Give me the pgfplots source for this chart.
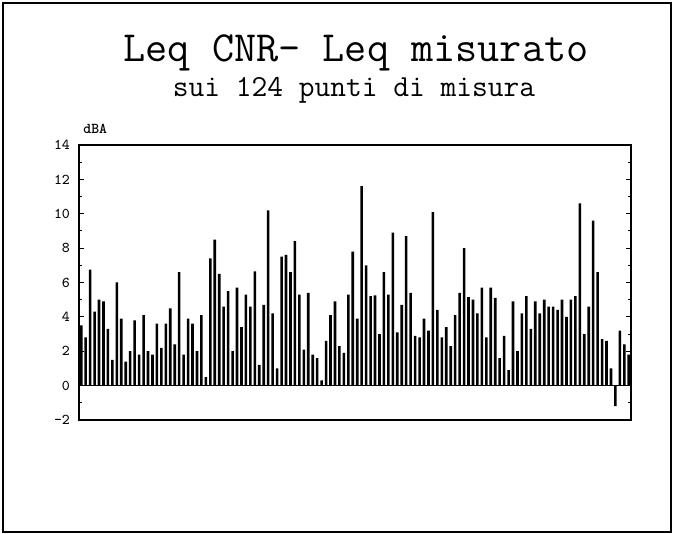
\documentclass[border=0pt]{standalone}
\usepackage{fontspec}
\usepackage{pgfplots}
\usepackage{pgfplotstable}
\pgfplotsset{compat=1.18}
\pgfplotstableread{
v
3.5
2.8
6.75
4.3
5.0
4.9
3.3
1.5
6.0
3.9
1.4
2.0
3.8
1.8
4.1
2.0
1.8
3.6
2.2
3.6
4.5
2.4
6.6
1.8
3.9
3.6
2.0
4.1
0.5
7.4
8.5
6.5
4.6
5.5
2.0
5.7
3.4
5.3
4.6
6.65
1.2
4.7
10.2
4.2
1.0
7.5
7.6
6.6
8.4
5.3
2.1
5.4
1.8
1.6
0.3
2.6
4.1
4.9
2.3
1.9
5.3
7.8
3.9
11.6
7.0
5.2
5.25
3.0
6.6
5.3
8.9
3.1
4.7
8.7
5.4
2.9
2.8
3.9
3.2
10.1
4.4
2.8
3.4
2.3
4.1
5.4
8.0
5.15
5.0
4.2
5.7
2.8
5.7
5.1
1.6
2.9
0.9
4.9
2.0
4.2
5.2
3.3
4.9
4.2
5.0
4.6
4.6
4.4
5.0
4.0
5.0
5.2
10.6
3.0
4.6
9.6
6.6
2.7
2.6
1.0
-1.2
3.2
2.4
1.8
}\bardata
\begin{document}
\begin{tikzpicture}
\path (0pt,0pt) rectangle (337pt,267pt);
\draw[line width=0.7pt] (1.5pt,1pt) rectangle (335.5pt,265.5pt);
\node[anchor=base, inner sep=0pt] at (178pt,236pt) {\ttfamily\fontsize{21.5}{22}\selectfont Leq CNR- Leq misurato};
\node[anchor=base, inner sep=0pt] at (177pt,218.5pt) {\ttfamily\fontsize{15.3}{16}\selectfont sui 124 punti di misura};
\node[anchor=base west, inner sep=0pt] at (41.5pt,200pt) {\ttfamily\bfseries\fontsize{7.5}{8}\selectfont dBA};
\begin{axis}[
  at={(39.5pt,57pt)}, anchor=south west,
  scale only axis, width=276pt, height=137.5pt,
  xmin=0.5, xmax=124.5, ymin=-2, ymax=14,
  xtick=\empty,
  ytick={-2,0,2,4,6,8,10,12,14},
  minor y tick num=1,
  tick align=inside,
  major tick length=2.5pt, minor tick length=1.5pt,
  axis line style={line width=0.8pt},
  /pgf/number format/assume math mode=true,
  yticklabel style={font=\ttfamily\fontsize{7.5}{8}\selectfont, xshift=-1pt},
  every tick/.style={black, line width=0.5pt},
]
\addplot[black, line width=0.7pt] coordinates {(0.5,0) (124.5,0)};
\addplot[ybar, fill=black, draw=none, bar width=1.3pt, bar shift=0pt]
  table[x expr=\coordindex+1, y=v] {\bardata};
\end{axis}
\end{tikzpicture}
\end{document}
